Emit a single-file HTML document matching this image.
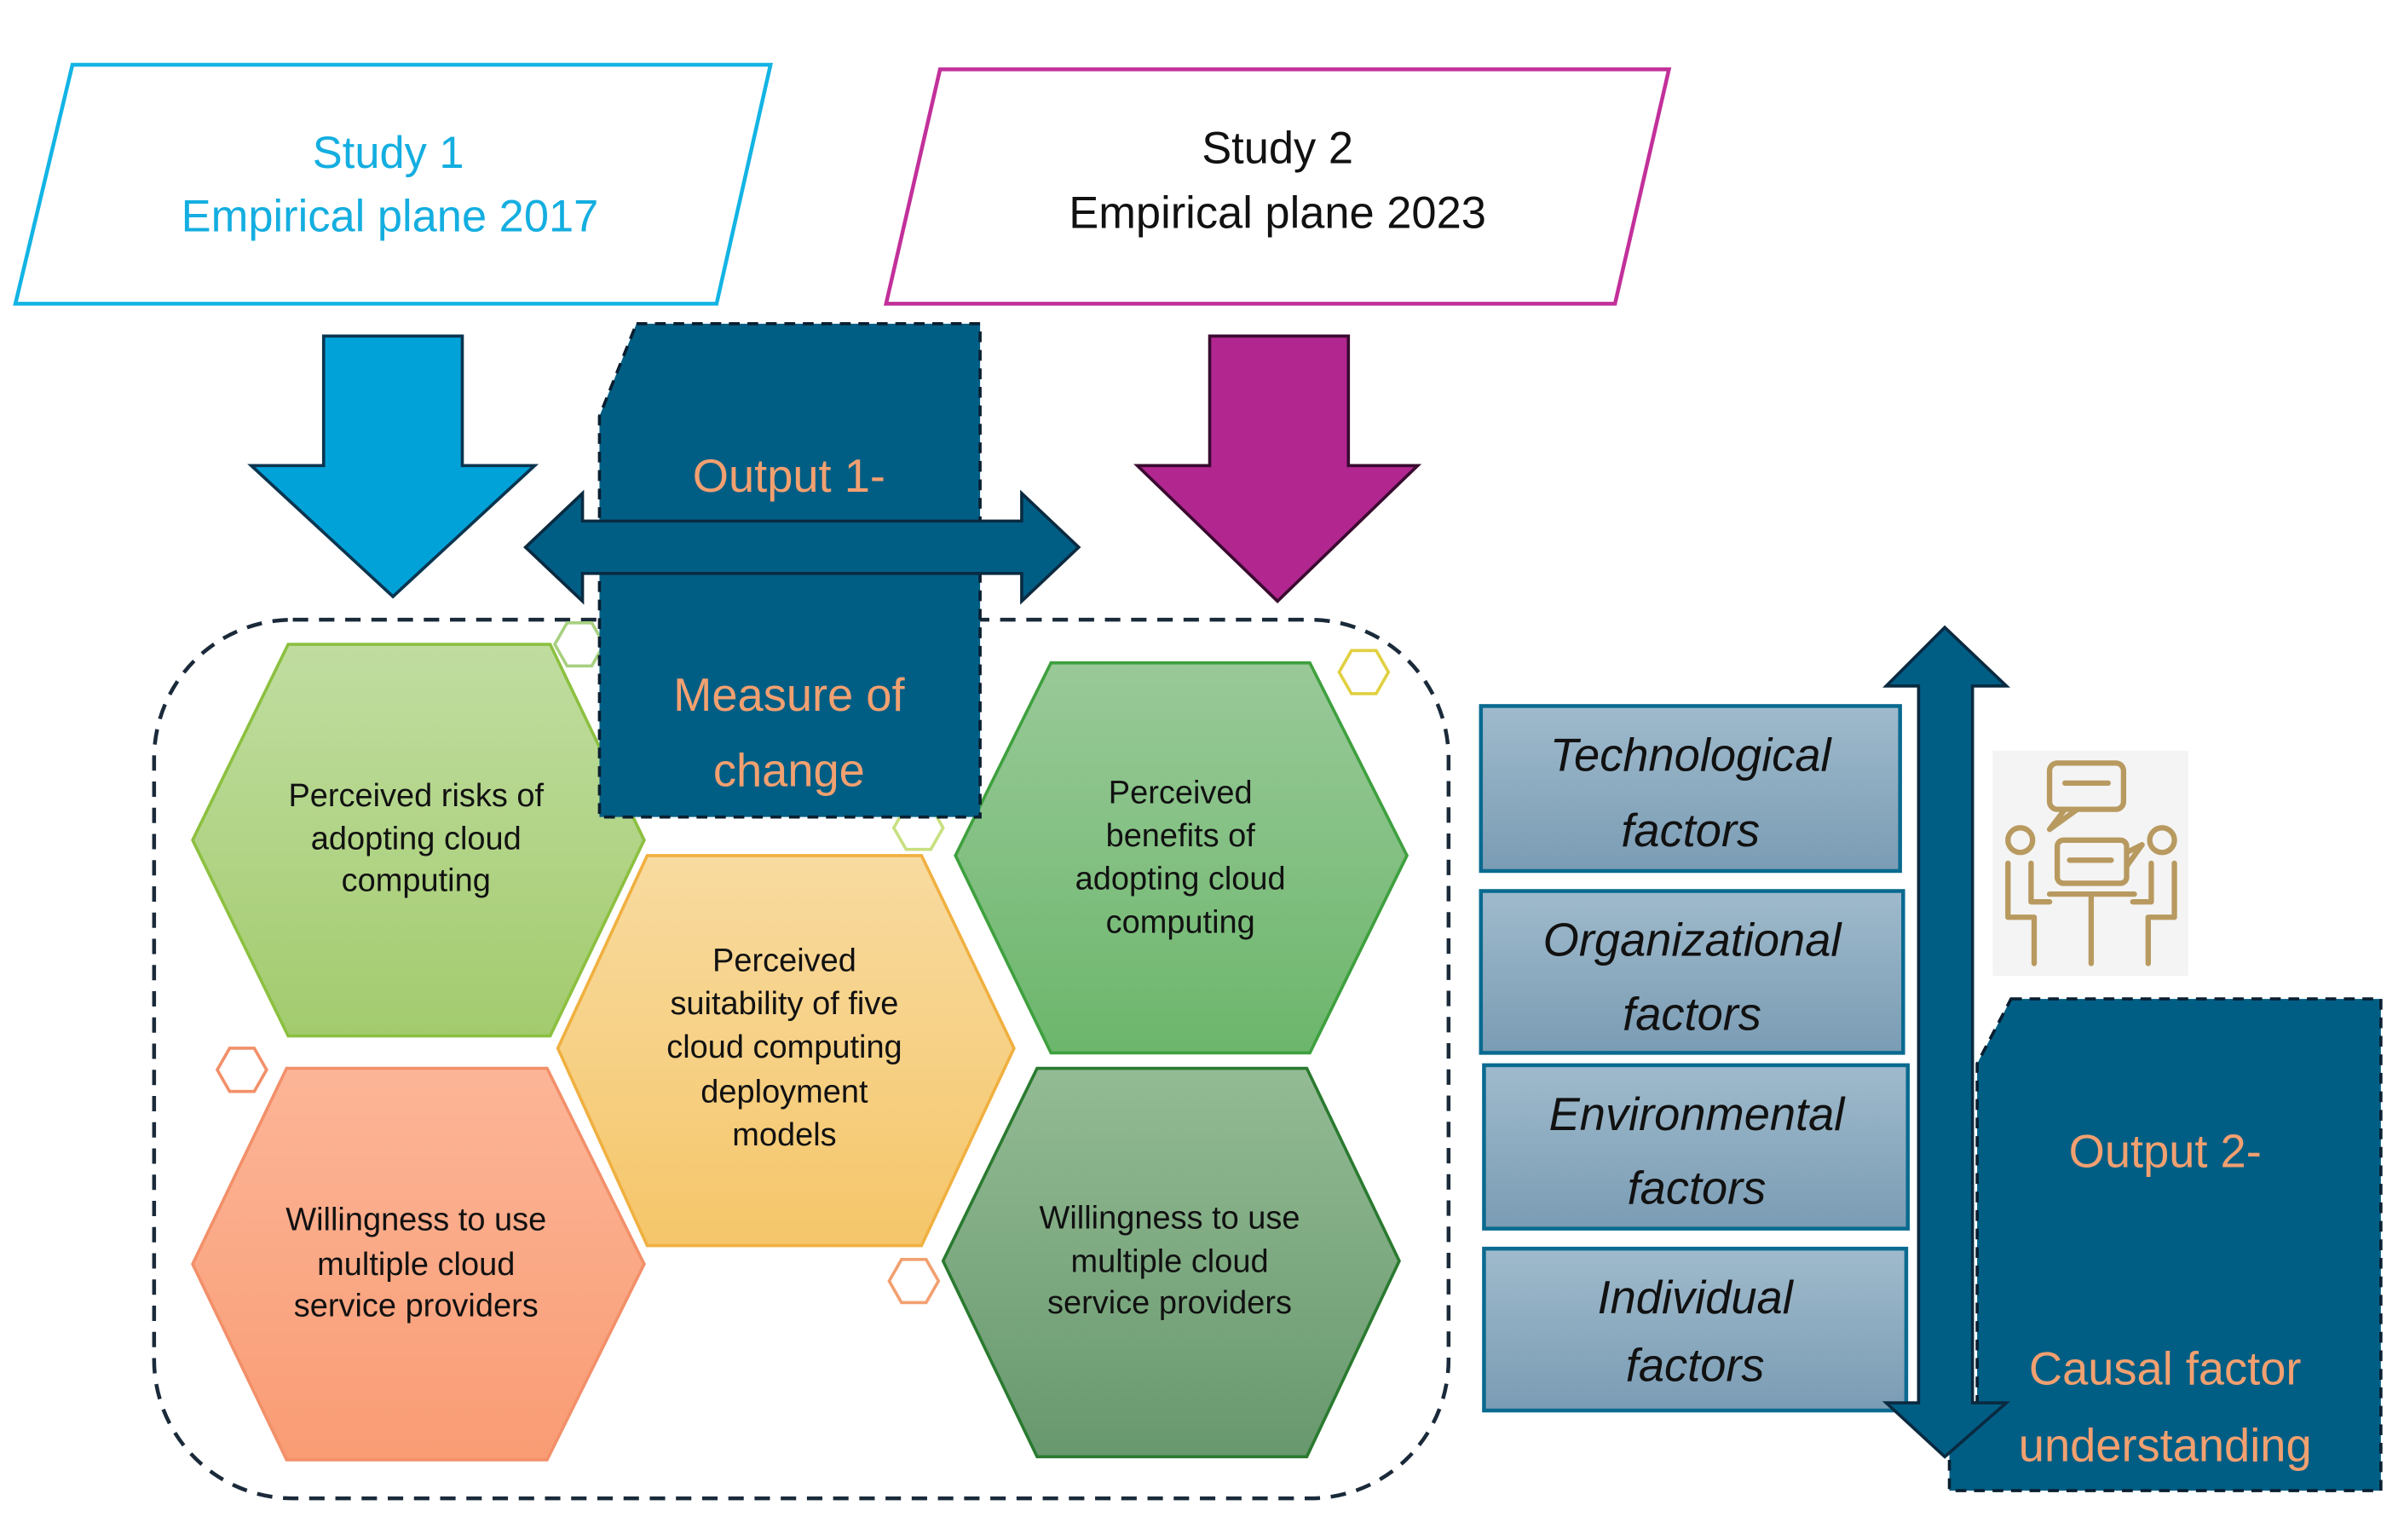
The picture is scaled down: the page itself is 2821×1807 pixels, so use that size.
<!DOCTYPE html>
<html><head><meta charset="utf-8"><style>
html,body{margin:0;padding:0;background:#fff;}
svg{display:block;}
text{font-family:"Liberation Sans",sans-serif;text-anchor:middle;}
</style></head><body>
<svg width="2821" height="1807" viewBox="0 0 1560 999" preserveAspectRatio="none" xmlns="http://www.w3.org/2000/svg">
<defs>
<linearGradient id="gR" x1="0" y1="0" x2="0" y2="1"><stop offset="0" stop-color="#c0dda0"/><stop offset="1" stop-color="#a3cb6e"/></linearGradient>
<linearGradient id="gS" x1="0" y1="0" x2="0" y2="1"><stop offset="0" stop-color="#f8dba0"/><stop offset="1" stop-color="#f5c66a"/></linearGradient>
<linearGradient id="gB" x1="0" y1="0" x2="0" y2="1"><stop offset="0" stop-color="#99c998"/><stop offset="1" stop-color="#6cb66c"/></linearGradient>
<linearGradient id="gW" x1="0" y1="0" x2="0" y2="1"><stop offset="0" stop-color="#fcb597"/><stop offset="1" stop-color="#f99c74"/></linearGradient>
<linearGradient id="gG" x1="0" y1="0" x2="0" y2="1"><stop offset="0" stop-color="#93bb94"/><stop offset="1" stop-color="#68986e"/></linearGradient>
<linearGradient id="gF" x1="0" y1="0" x2="0" y2="1"><stop offset="0" stop-color="#9fbacc"/><stop offset="1" stop-color="#7a9cb4"/></linearGradient>
</defs>

<!-- Study parallelograms -->
<polygon points="47,42 500,42 465,197 10,197" fill="#fff" stroke="#12b4e4" stroke-width="2.5"/>
<text x="252" y="109" font-size="29" fill="#14aee0">Study 1</text>
<text x="253" y="150" font-size="29" fill="#14aee0">Empirical plane 2017</text>
<polygon points="610,45 1083,45 1048,197 575,197" fill="#fff" stroke="#c2309a" stroke-width="2.5"/>
<text x="829" y="106" font-size="29" fill="#111">Study 2</text>
<text x="829" y="148" font-size="29" fill="#111">Empirical plane 2023</text>

<!-- Down arrows -->
<polygon points="210,218 300,218 300,302 347,302 255,387 163,302 210,302" fill="#00a2d8" stroke="#0b3550" stroke-width="2"/>
<polygon points="785,218 875,218 875,302 920,302 829,390 738,302 785,302" fill="#b22690" stroke="#3a0a30" stroke-width="2"/>

<!-- dashed rounded container -->
<rect x="100" y="402" width="840" height="570" rx="90" ry="90" fill="none" stroke="#1a2a3a" stroke-width="2.5" stroke-dasharray="10,7"/>

<!-- hexagons -->
<polygon points="125,545 187,418 357,418 418,545 357,672 187,672" fill="url(#gR)" stroke="#8cc040" stroke-width="2"/>
<polygon points="362,680 420,555 598,555 658,680 598,808 420,808" fill="url(#gS)" stroke="#f0b040" stroke-width="2"/>
<polygon points="620,555 682,430 850,430 913,555 850,683 682,683" fill="url(#gB)" stroke="#3ea03e" stroke-width="2"/>
<polygon points="125,820 186,693 355,693 418,820 355,947 186,947" fill="url(#gW)" stroke="#f2906a" stroke-width="2"/>
<polygon points="612,818 673,693 848,693 908,818 848,945 673,945" fill="url(#gG)" stroke="#2a7a30" stroke-width="2"/>

<g font-size="21" fill="#111">
<text x="270" y="523">Perceived risks of</text><text x="270" y="551">adopting cloud</text><text x="270" y="578">computing</text>
<text x="509" y="630">Perceived</text><text x="509" y="658">suitability of five</text><text x="509" y="686">cloud computing</text><text x="509" y="715">deployment</text><text x="509" y="743">models</text>
<text x="766" y="521">Perceived</text><text x="766" y="549">benefits of</text><text x="766" y="577">adopting cloud</text><text x="766" y="605">computing</text>
<text x="270" y="798">Willingness to use</text><text x="270" y="827">multiple cloud</text><text x="270" y="854">service providers</text>
<text x="759" y="797">Willingness to use</text><text x="759" y="825">multiple cloud</text><text x="759" y="852">service providers</text>
</g>

<!-- small hexes -->
<g fill="none" stroke-width="2">
<polygon points="360,418 368,404 384,404 392,418 384,432 368,432" stroke="#a8d080"/>
<polygon points="141,694 149,680 165,680 173,694 165,708 149,708" stroke="#f2906a"/>
<polygon points="869,436 877,422 893,422 901,436 893,450 877,450" stroke="#e0d040"/>
<polygon points="580,537 588,523 604,523 612,537 604,551 588,551" stroke="#c8e080"/>
<polygon points="577,831 585,817 601,817 609,831 601,845 585,845" stroke="#f2a070"/>
</g>

<!-- Output 1 box -->
<polygon points="413,210 636,210 636,530 389,530 389,270" fill="#005e85" stroke="#0a1f30" stroke-width="2" stroke-dasharray="7,5"/>
<!-- horizontal double arrow -->
<polygon points="341,355 378,320 378,338 663,338 663,320 700,355 663,390 663,372 378,372 378,390" fill="#005e85" stroke="#0a2a40" stroke-width="2"/>
<text x="512" y="319" font-size="30" fill="#f2a070">Output 1-</text>
<text x="512" y="461" font-size="30" fill="#f2a070">Measure of</text>
<text x="512" y="510" font-size="30" fill="#f2a070">change</text>

<!-- factor boxes -->
<g stroke="#0a6a90" stroke-width="2.5" fill="url(#gF)">
<rect x="961" y="458" width="272" height="107"/>
<rect x="961" y="578" width="274" height="105"/>
<rect x="963" y="691" width="275" height="106"/>
<rect x="963" y="810" width="274" height="105"/>
</g>
<g font-size="30" font-style="italic" fill="#111">
<text x="1097" y="500">Technological</text><text x="1097" y="549">factors</text>
<text x="1098" y="620">Organizational</text><text x="1098" y="668">factors</text>
<text x="1101" y="733">Environmental</text><text x="1101" y="781">factors</text>
<text x="1100" y="852">Individual</text><text x="1100" y="896">factors</text>
</g>

<!-- Output 2 box -->
<polygon points="1305,648 1545,648 1545,967 1265,967 1265,910 1283,910 1283,690" fill="#005e85" stroke="#0a1f30" stroke-width="2" stroke-dasharray="7,5"/>
<text x="1405" y="757" font-size="30" fill="#f2a070">Output 2-</text>
<text x="1405" y="898" font-size="30" fill="#f2a070">Causal factor</text>
<text x="1405" y="948" font-size="30" fill="#f2a070">understanding</text>

<!-- vertical double arrow -->
<polygon points="1262,407 1302,445 1280,445 1280,910 1302,910 1262,945 1224,910 1245,910 1245,445 1224,445" fill="#005e85" stroke="#0a2a40" stroke-width="2"/>

<!-- icon -->
<rect x="1293" y="487" width="127" height="146" fill="#f4f4f4"/>
<g fill="none" stroke="#b89a60" stroke-width="3.5" stroke-linecap="round" stroke-linejoin="round">
<rect x="1330" y="495" width="48" height="30" rx="5"/>
<path d="M1340,525 L1330,538 L1348,525"/>
<line x1="1340" y1="508" x2="1368" y2="508"/>
<rect x="1335" y="545" width="45" height="28" rx="4"/>
<path d="M1380,553 L1390,548 L1380,562"/>
<line x1="1343" y1="558" x2="1370" y2="558"/>
<circle cx="1311" cy="545" r="8"/>
<circle cx="1403" cy="545" r="8"/>
<path d="M1303,560 L1303,595 L1320,595 L1320,625"/>
<path d="M1318,560 L1318,585 L1330,585"/>
<path d="M1411,560 L1411,595 L1394,595 L1394,625"/>
<path d="M1396,560 L1396,585 L1384,585"/>
<line x1="1330" y1="580" x2="1385" y2="580"/>
<line x1="1357" y1="580" x2="1357" y2="625"/>
</g>
</svg>
</body></html>
